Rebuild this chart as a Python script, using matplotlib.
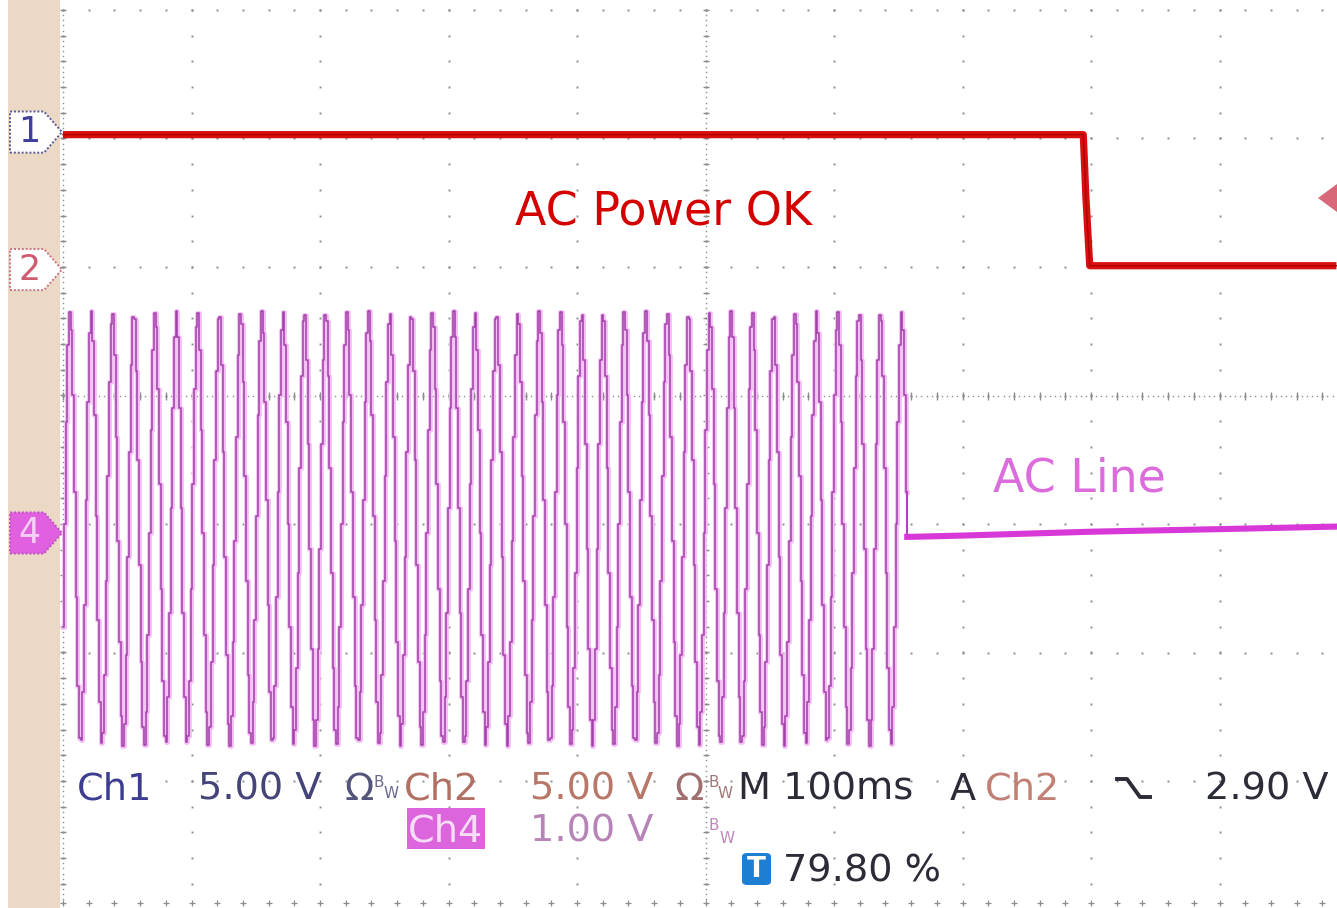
import numpy as np
import matplotlib
matplotlib.use("Agg")
import matplotlib.pyplot as plt
from matplotlib.patches import Polygon, Rectangle, FancyBboxPatch
from matplotlib.lines import Line2D

# ---- values (x in ms, y in divisions) ----
ms_per_div = 100
ch1_t = [0, 794, 796, 799, 991]
ch1_v = [2.03, 2.03, 1.55, 1.01, 1.01]

ac_period_ms = 16.6      # ~60 Hz line
ac_first_peak_ms = 5.4
ac_center_div = -1.035
ac_amp_div = 1.69
ac_drop_ms = 657
ac_sample_ms = 1.3       # scope display sample step
ac_after_t = [657, 660, 700, 800, 900, 991]
ac_after_v = [-1.10, -1.10, -1.09, -1.06, -1.04, -1.02]

markers = [("1", 2.05), ("2", 0.98), ("4", -1.07)]

W, H = 1337, 908
px_div = 128.5
x0_px, yc_px = 63, 395.5

def fx(px):
    return px / W

def fy(py):
    return 1 - py / H

def px2ms(px):
    return (px - x0_px) / px_div * ms_per_div

fig = plt.figure(figsize=(W / 100, H / 100), dpi=100)
ax = fig.add_axes([0, 0, 1, 1])
ax.axis("off")
ax.set_xlim(px2ms(0), px2ms(W))
ax.set_ylim(-(H - yc_px) / px_div, yc_px / px_div)

# beige side band
ax.axvspan(px2ms(8), px2ms(60), color="#EBD9C6", zorder=0, lw=0)

# graticule
gc = "#8c8c8c"
xs_major = np.arange(0, 1000, ms_per_div)
ys_major = np.arange(-4, 3.01, 1)
yy = np.arange(-4, 3.01, 0.2)
xx = np.arange(0, 1000, 20)
for x in xs_major:
    ax.plot(np.full_like(yy, x), yy, ls="none", marker="s", ms=1.4, color=gc, mew=0, zorder=1)
for y in ys_major:
    ax.plot(xx, np.full_like(xx, y, dtype=float), ls="none", marker="s", ms=1.4, color=gc, mew=0, zorder=1)
# centre lines and left edge: dense dots plus small ticks
yd = np.arange(-4, 3.01, 0.04)
xd = np.arange(0, 1000, 4)
for x in [0, 500]:
    ax.plot(np.full_like(yd, x), yd, ls="none", marker="s", ms=1.0, color=gc, mew=0, zorder=1)
    ax.plot(np.full_like(yy, x), yy, ls="none", marker="_", ms=5, color=gc, mew=1.0, zorder=1)
ax.plot(xd, np.zeros_like(xd, dtype=float), ls="none", marker="s", ms=1.0, color=gc, mew=0, zorder=1)
ax.plot(xx, np.zeros_like(xx, dtype=float), ls="none", marker="|", ms=6, color=gc, mew=1.0, zorder=1)
ax.plot(xx, np.full_like(xx, -3.95, dtype=float), ls="none", marker="+", ms=5, color=gc, mew=0.9, zorder=1)

# Ch1 / Ch2 logic trace (red)
ax.plot(ch1_t, ch1_v, color="#D81010", lw=5.2, solid_capstyle="butt", zorder=4)
ax.plot(ch1_t, ch1_v, color="#B00000", lw=1.0, zorder=4)

# Ch4 AC line (magenta, sampled display)
t = np.arange(0, ac_drop_ms, ac_sample_ms)
v = ac_center_div + ac_amp_div * np.cos(2 * np.pi * (t - ac_first_peak_ms) / ac_period_ms)
ax.plot(t, v, drawstyle="steps-mid", color="#F4BCF4", lw=3.4, zorder=3)
ax.plot(t, v, drawstyle="steps-mid", color="#A040A8", lw=1.1, zorder=3)
ax.plot([t[-1], t[-1], ac_after_t[0]], [v[-1], ac_after_v[0], ac_after_v[0]],
        color="#B040C0", lw=1.5, zorder=3)
ax.plot(ac_after_t, ac_after_v, color="#D838D8", lw=4.4, zorder=3)

# channel markers on the left
mcfg = {
    "1": dict(fc="white", ec="#5a5a9a", tc="#40409a"),
    "2": dict(fc="white", ec="#d07080", tc="#d05a70"),
    "4": dict(fc="#E060E0", ec="#c050c8", tc="#f4d0f4"),
}
xa, xb, xt = px2ms(10), px2ms(44), px2ms(62)
hh = 0.16
for lab, yv in markers:
    c = mcfg[lab]
    poly = Polygon([(xa, yv - hh), (xb, yv - hh), (xt, yv), (xb, yv + hh), (xa, yv + hh)],
                   closed=True, fc=c["fc"], ec=c["ec"], lw=1.4, ls=(0, (1, 1)), zorder=5)
    ax.add_patch(poly)
    ax.text((xa + xb) / 2 + 2, yv, lab, color=c["tc"], fontsize=25, ha="center", va="center",
            zorder=6)

# trigger level arrow on the right
ax.add_patch(Polygon([(px2ms(1318), (yc_px - 198) / px_div),
                      (px2ms(1337), (yc_px - 184) / px_div),
                      (px2ms(1337), (yc_px - 212) / px_div)],
                     closed=True, fc="#D86878", ec="none", zorder=5))

# annotations
fig.text(fx(515), fy(226), "AC Power OK", color="#D40000", fontsize=33, va="baseline")
fig.text(fx(993), fy(492), "AC Line", color="#DC6CDC", fontsize=33, va="baseline")

# readout row 1
fs = 27.5
b1 = 800
fig.text(fx(77), fy(b1), "Ch1", color="#3c3c90", fontsize=fs, va="baseline")
fig.text(fx(198), fy(b1), "5.00 V", color="#444478", fontsize=fs, va="baseline")
fig.text(fx(344), fy(b1), "\u03a9", color="#54547a", fontsize=fs, va="baseline")
fig.text(fx(404), fy(b1), "Ch2", color="#b07064", fontsize=fs, va="baseline")
fig.text(fx(530), fy(b1), "5.00 V", color="#b87868", fontsize=fs, va="baseline")
fig.text(fx(675), fy(b1), "\u03a9", color="#a07070", fontsize=fs, va="baseline")
fig.text(fx(738), fy(b1), "M 100ms", color="#2c2c38", fontsize=fs, va="baseline")
fig.text(fx(950), fy(b1), "A", color="#2c2c38", fontsize=fs, va="baseline")
fig.text(fx(985), fy(b1), "Ch2", color="#c08074", fontsize=fs, va="baseline")
fig.text(fx(1205), fy(b1), "2.90 V", color="#2c2c38", fontsize=fs, va="baseline")
for bx, col in [(373, "#6a6a90"), (708, "#a07878")]:
    fig.text(fx(bx), fy(787), "B", color=col, fontsize=11, va="baseline")
    fig.text(fx(bx + 10), fy(798), "W", color=col, fontsize=11, va="baseline")
# falling edge symbol
fig.add_artist(Line2D([fx(1117), fx(1127), fx(1140), fx(1150)],
                      [fy(779), fy(779), fy(797), fy(797)],
                      transform=fig.transFigure, color="#2c2c38", lw=2.8))

# readout row 2
fig.add_artist(Rectangle((fx(407), fy(849)), fx(485) - fx(407), fy(808) - fy(849),
                         transform=fig.transFigure, fc="#DC64DC", ec="none"))
fig.text(fx(446), fy(842), "Ch4", color="#F6DCF6", fontsize=fs, va="baseline", ha="center")
fig.text(fx(530), fy(842), "1.00 V", color="#b884b8", fontsize=fs, va="baseline")
fig.text(fx(709), fy(830), "B", color="#bb88bb", fontsize=11, va="baseline")
fig.text(fx(720), fy(843), "W", color="#bb88bb", fontsize=11, va="baseline")

# readout row 3
fig.add_artist(FancyBboxPatch((fx(742), fy(885)), fx(771) - fx(742), fy(853) - fy(885),
                              boxstyle="round,pad=0,rounding_size=0.004",
                              transform=fig.transFigure, fc="#1E7ED2", ec="none"))
fig.text(fx(756.5), fy(869), "T", color="white", fontsize=20, fontweight="bold",
         ha="center", va="center")
fig.text(fx(783), fy(882), "79.80 %", color="#2c2c38", fontsize=fs, va="baseline")

fig.savefig("out.png", dpi=100, facecolor="white")
